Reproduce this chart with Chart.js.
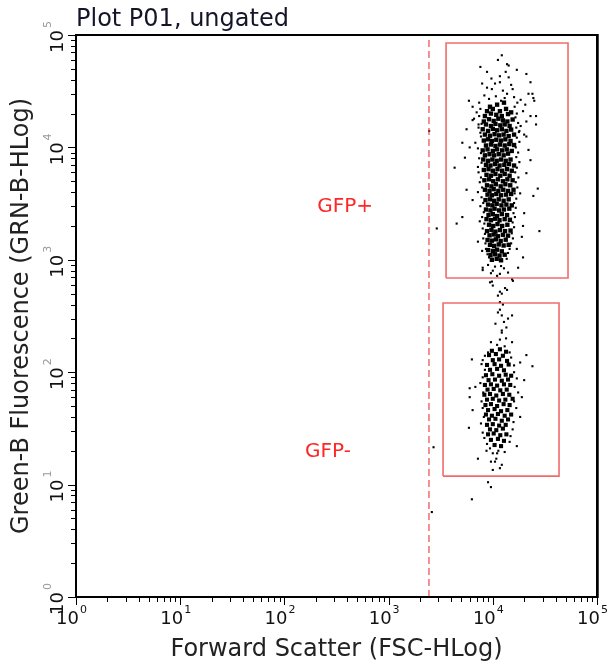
<!DOCTYPE html>
<html><head><meta charset="utf-8">
<script src="https://cdn.jsdelivr.net/npm/chart.js@4.4.1/dist/chart.umd.min.js"></script>
<style>html,body{margin:0;padding:0;background:#fff}#wrap{width:613px;height:664px;position:relative}</style>
</head><body><div id="wrap"><canvas id="c"></canvas></div>
<script>
// ---- texts ----
const plotTitle = 'Plot P01, ungated';
const xTitle = 'Forward Scatter (FSC-HLog)';
const yTitle = 'Green-B Fluorescence (GRN-B-HLog)';
const tickBase = '10';
const tickExponents = ['0', '1', '2', '3', '4', '5'];
const decadeValues = [1, 10, 100, 1000, 10000, 100000];
const minorMultipliers = [2, 3, 4, 5, 6, 7, 8, 9];
const gateNames = ['GFP+', 'GFP-'];
const gateLabelFSC = [382, 262];
const gateLabelGRN = [2950, 19.5];

// ---- gates (FSC, GRN) ----
const gfpPosFSC = [3.56e3, 5.27e4];
const gfpPosGRN = [689, 8.49e4];
const gfpNegFSC = [3.33e3, 4.32e4];
const gfpNegGRN = [11.9, 413];
const fscThreshold = 2.44e3;

// ---- events [FSC, GRN] ----
const posCore = [
[9.4e3,2.3e4],[1.1e4,2.4e4],[1.28e4,2.5e4],
[8.8e3,2.1e4],[1.0e4,2.2e4],[1.17e4,2.1e4],[1.34e4,2.2e4],[1.5e4,2.05e4],
[8.4e3,1.9e4],[9.6e3,2.0e4],[1.08e4,1.95e4],[1.22e4,1.9e4],[1.4e4,1.98e4],
[8.2e3,1.7e4],[9.2e3,1.78e4],[1.02e4,1.72e4],[1.13e4,1.8e4],[1.25e4,1.74e4],[1.38e4,1.7e4],[1.55e4,1.77e4],
[8.6e3,1.6e4],[9.6e3,1.55e4],[1.06e4,1.62e4],[1.18e4,1.57e4],[1.3e4,1.6e4],[1.45e4,1.55e4],
[8.0e3,1.45e4],[9.0e3,1.4e4],[1.0e4,1.46e4],[1.1e4,1.42e4],[1.22e4,1.45e4],[1.35e4,1.4e4],[1.5e4,1.44e4],
[8.4e3,1.3e4],[9.4e3,1.27e4],[1.04e4,1.31e4],[1.15e4,1.28e4],[1.27e4,1.3e4],[1.42e4,1.26e4],[1.6e4,1.3e4],
[8.2e3,1.15e4],[9.0e3,1.18e4],[9.8e3,1.14e4],[1.08e4,1.17e4],[1.2e4,1.15e4],[1.32e4,1.18e4],[1.48e4,1.14e4],
[8.6e3,1.04e4],[9.6e3,1.06e4],[1.06e4,1.03e4],[1.17e4,1.06e4],[1.3e4,1.04e4],[1.44e4,1.07e4],[1.6e4,1.05e4],
[8.0e3,9.4e3],[8.9e3,9.6e3],[1.0e4,9.3e3],[1.1e4,9.6e3],[1.23e4,9.4e3],[1.36e4,9.6e3],[1.52e4,9.3e3],
[8.4e3,8.5e3],[9.3e3,8.7e3],[1.03e4,8.5e3],[1.14e4,8.7e3],[1.27e4,8.5e3],[1.4e4,8.8e3],
[8.1e3,7.8e3],[9.0e3,7.6e3],[9.9e3,7.8e3],[1.09e4,7.6e3],[1.2e4,7.8e3],[1.33e4,7.6e3],[1.48e4,7.8e3],
[8.6e3,7.0e3],[9.5e3,6.9e3],[1.05e4,7.1e3],[1.16e4,6.9e3],[1.29e4,7.0e3],[1.43e4,7.1e3],[1.6e4,6.9e3],
[8.2e3,6.3e3],[9.1e3,6.4e3],[1.0e4,6.2e3],[1.11e4,6.4e3],[1.23e4,6.2e3],[1.37e4,6.4e3],[1.52e4,6.2e3],
[8.7e3,5.7e3],[9.6e3,5.6e3],[1.06e4,5.8e3],[1.18e4,5.6e3],[1.3e4,5.8e3],[1.45e4,5.6e3],
[8.3e3,5.1e3],[9.2e3,5.2e3],[1.01e4,5.0e3],[1.12e4,5.2e3],[1.25e4,5.0e3],[1.38e4,5.2e3],[1.55e4,5.1e3],
[8.8e3,4.6e3],[9.7e3,4.5e3],[1.07e4,4.7e3],[1.19e4,4.5e3],[1.32e4,4.7e3],[1.47e4,4.6e3],
[8.4e3,4.2e3],[9.3e3,4.1e3],[1.02e4,4.25e3],[1.13e4,4.1e3],[1.26e4,4.2e3],[1.4e4,4.1e3],[1.58e4,4.2e3],
[8.9e3,3.8e3],[9.8e3,3.75e3],[1.08e4,3.85e3],[1.2e4,3.75e3],[1.34e4,3.8e3],[1.5e4,3.85e3],
[8.5e3,3.4e3],[9.4e3,3.45e3],[1.03e4,3.35e3],[1.14e4,3.45e3],[1.27e4,3.35e3],[1.42e4,3.45e3],
[9.0e3,3.1e3],[9.9e3,3.05e3],[1.09e4,3.15e3],[1.21e4,3.05e3],[1.35e4,3.1e3],[1.52e4,3.05e3],
[8.6e3,2.8e3],[9.5e3,2.75e3],[1.04e4,2.85e3],[1.15e4,2.75e3],[1.28e4,2.8e3],[1.44e4,2.85e3],
[9.1e3,2.5e3],[1.0e4,2.55e3],[1.1e4,2.45e3],[1.22e4,2.55e3],[1.37e4,2.5e3],
[8.7e3,2.3e3],[9.6e3,2.25e3],[1.05e4,2.32e3],[1.16e4,2.25e3],[1.3e4,2.3e3],[1.46e4,2.27e3],
[9.2e3,2.05e3],[1.01e4,2.0e3],[1.11e4,2.08e3],[1.23e4,2.0e3],[1.38e4,2.05e3],
[8.8e3,1.8e3],[9.7e3,1.85e3],[1.06e4,1.78e3],[1.17e4,1.84e3],[1.31e4,1.8e3],[1.48e4,1.82e3],
[9.3e3,1.65e3],[1.02e4,1.68e3],[1.12e4,1.62e3],[1.25e4,1.67e3],[1.4e4,1.64e3],
[8.9e3,1.5e3],[9.8e3,1.48e3],[1.07e4,1.52e3],[1.19e4,1.47e3],[1.33e4,1.51e3],
[9.4e3,1.36e3],[1.03e4,1.33e3],[1.14e4,1.37e3],[1.27e4,1.34e3],[1.42e4,1.36e3],
[9.0e3,1.22e3],[1.0e4,1.2e3],[1.1e4,1.23e3],[1.22e4,1.19e3],
[9.5e3,1.1e3],[1.05e4,1.12e3],[1.16e4,1.09e3],[1.3e4,1.11e3],
[9.8e3,1.0e3],[1.09e4,1.02e3],[1.2e4,990]
];
const posHalo = [
[1.22e4,6.6e4],[1.12e4,6.0e4],[1.37e4,5.5e4],[1.42e4,5.35e4],[7.6e3,5.2e4],[8.8e3,4.7e4],[1.33e4,4.7e4],[1.7e4,4.9e4],[2.1e4,4.5e4],
[9.7e3,4.1e4],[1.17e4,4.3e4],[1.42e4,4.2e4],[7.9e3,3.7e4],[8.8e3,3.4e4],[1.17e4,3.8e4],[1.05e4,3.7e4],[1.5e4,3.6e4],[2.3e4,3.8e4],
[9.8e3,3.3e4],[1.25e4,3.2e4],[1.55e4,3.3e4],[1.37e4,3.0e4],[2.2e4,3.0e4],[2.4e4,3.0e4],[5.9e3,2.6e4],[2.5e4,2.6e4],
[8.3e3,2.9e4],[9.2e3,2.7e4],[1.07e4,2.85e4],[1.2e4,2.6e4],[1.6e4,2.8e4],[1.85e4,2.65e4],[7.4e3,2.5e4],[1.3e4,2.75e4],[1.72e4,2.5e4],[2.05e4,2.4e4],
[6.4e3,2.3e4],[7.0e3,2.05e4],[1.95e4,2.1e4],[2.3e4,1.9e4],[6.6e3,1.8e4],[2.1e4,1.7e4],[7.3e3,1.6e4],[1.85e4,1.55e4],[2.6e4,1.6e4],[5.6e3,1.45e4],
[7.6e3,1.35e4],[1.8e4,1.4e4],[2.0e4,1.3e4],[5.1e3,1.1e4],[6.8e3,1.1e4],[4.3e3,6.6e3],[5.4e3,8.1e3],[5.6e3,4.2e3],[5.1e3,2.4e3],[4.5e3,2.1e3],
[2.8e4,1.8e3],[2.7e4,4.3e3],[2.45e4,3.7e3],[2.1e4,5.9e3],[2.3e4,7.7e3],[2.2e4,9.5e3],[2.1e4,1.25e4],[2.6e4,1.9e4],[2.45e4,2.75e4],
[6.4e3,1.75e4],[6.0e3,1.0e4],[7.2e3,6.7e3],[6.4e3,3.4e3],[7.5e3,2.2e3],[7.2e3,1.45e3],[7.9e3,1.2e3],[8.0e3,850],[1.75e4,850],[1.95e4,1.05e3],
[1.83e4,3.9e3],[2.0e4,2.6e3],[1.95e4,2.0e3],[1.7e4,1.25e3],[1.9e4,1.6e3],
[7.6e3,2.2e4],[7.4e3,1.9e4],[7.8e3,1.62e4],[7.3e3,1.5e4],[7.7e3,1.25e4],[7.2e3,9.8e3],[7.7e3,8.9e3],[7.4e3,8.0e3],[7.8e3,7.3e3],
[7.3e3,6.0e3],[7.7e3,5.4e3],[7.5e3,4.9e3],[7.9e3,4.4e3],[7.2e3,4.0e3],[7.8e3,3.6e3],[8.1e3,3.2e3],[7.6e3,3.0e3],[8.2e3,2.65e3],
[7.9e3,2.4e3],[8.3e3,2.1e3],[8.0e3,1.9e3],[8.4e3,1.7e3],[8.1e3,1.55e3],[8.5e3,1.4e3],[8.6e3,1.25e3],[8.9e3,1.12e3],[9.2e3,1.05e3],
[1.62e4,2.3e4],[1.7e4,2.0e4],[1.65e4,1.85e4],[1.75e4,1.65e4],[1.68e4,1.5e4],[1.78e4,1.37e4],[1.7e4,1.22e4],[1.8e4,1.12e4],[1.66e4,1.0e4],
[1.75e4,9.0e3],[1.68e4,8.2e3],[1.8e4,7.4e3],[1.7e4,6.6e3],[1.64e4,6.0e3],[1.76e4,5.4e3],[1.66e4,4.9e3],[1.72e4,4.4e3],[1.62e4,3.9e3],
[1.68e4,3.5e3],[1.6e4,3.2e3],[1.66e4,2.9e3],[1.58e4,2.6e3],[1.63e4,2.4e3],[1.55e4,2.15e3],[1.6e4,1.95e3],[1.52e4,1.72e3],[1.56e4,1.55e3],
[1.5e4,1.4e3],[1.45e4,1.25e3],[1.4e4,1.15e3],[1.36e4,1.02e3],
[8.0e3,810],[1.0e4,800],[1.17e4,750],[1.4e4,770],[1.53e4,670],[1.56e4,650],[9.4e3,630],[1.0e4,590],[1.31e4,560],[1.37e4,540],
[1.17e4,520],[1.22e4,500],[1.12e4,480],[9.0e3,900],[1.05e4,870],[1.2e4,880],[1.28e4,840],[9.6e3,760],[1.1e4,720],[9.8e3,640]
];
const negCore = [
[9.8e3,155],[1.17e4,160],[1.34e4,152],
[9.2e3,142],[1.07e4,145],[1.25e4,140],
[1.0e4,128],[1.15e4,130],[1.37e4,126],
[8.8e3,116],[1.04e4,118],[1.2e4,114],[1.42e4,117],
[9.4e3,105],[1.1e4,107],[1.28e4,104],
[8.6e3,94],[9.9e3,96],[1.15e4,93],[1.33e4,95],[1.5e4,93],
[9.1e3,85],[1.05e4,86],[1.22e4,84],[1.4e4,86],
[8.4e3,77],[9.6e3,78],[1.1e4,76],[1.28e4,78],[1.47e4,77],
[8.9e3,70],[1.02e4,71],[1.18e4,69],[1.36e4,70],
[8.3e3,63],[9.4e3,64],[1.08e4,62],[1.25e4,64],[1.44e4,63],
[8.8e3,57],[1.0e4,58],[1.15e4,56],[1.32e4,57],[1.55e4,58],
[8.5e3,51],[9.6e3,52],[1.1e4,50],[1.27e4,52],[1.45e4,51],
[9.0e3,46],[1.04e4,47],[1.2e4,45],[1.38e4,46],
[8.6e3,42],[9.8e3,41],[1.12e4,42.5],[1.3e4,41],[1.5e4,42],
[9.2e3,38],[1.06e4,38.5],[1.22e4,37],[1.4e4,38],
[8.8e3,34],[1.0e4,34.5],[1.15e4,33.5],[1.33e4,34],
[9.4e3,31],[1.08e4,30.5],[1.25e4,31.5],
[9.0e3,28],[1.02e4,28.5],[1.18e4,27.5],[1.35e4,28],
[9.6e3,25],[1.12e4,25.5],[1.28e4,24.5],
[1.04e4,22.5],[1.2e4,22]
];
const negHalo = [
[1.17e4,420],[1.25e4,400],[1.17e4,360],[1.12e4,340],[1.22e4,320],[1.53e4,320],[1.4e4,300],[1.22e4,235],[1.22e4,225],
[9.6e3,185],[1.17e4,195],[1.34e4,200],[1.53e4,185],[6.3e3,130],[2.1e4,142],[2.4e4,113],[1.83e4,122],[8.0e3,128],[8.4e3,105],
[6.0e3,72],[6.8e3,74],[6.0e3,60],[8.0e3,48],[6.4e3,46],[2.0e4,85],[1.9e4,60],[1.83e4,40],[1.7e4,22],[5.9e3,32],[7.2e3,17],
[1.17e4,14],[8.8e3,23],[1.1e4,19],[1.05e4,16],[1.22e4,15],[9.0e3,10.5],[9.6e3,9.5],
[8.0e3,90],[7.6e3,80],[8.1e3,66],[7.8e3,55],[8.2e3,40],[7.7e3,35],[8.0e3,29],[8.3e3,26],[1.6e4,100],[1.7e4,88],[1.62e4,74],
[1.75e4,66],[1.6e4,55],[1.68e4,48],[1.58e4,36],[1.55e4,31],[1.48e4,27],[1.45e4,24],[8.7e3,20],[9.4e3,21],[1.0e4,19],[1.13e4,20],
[1.3e4,19.5],[1.08e4,17],[9.6e3,16],[1.0e4,13.5],[1.3e4,170],[1.1e4,175],[9.0e3,150],[1.45e4,150],[1.5e4,135],[8.4e3,140],
[1.6e4,115],[7.8e3,118],[1.35e4,250],[1.06e4,270],[1.28e4,280]
];
const strayEvents = [[2.45e3,1.4e4],[2.9e3,1.9e3],[2.7e3,21.5],[2.6e3,5.7],[6.3e3,7.4]];

// ---- build datasets ----
const FONT = '"DejaVu Sans", Verdana, sans-serif';
Chart.defaults.font.family = FONT;
const gateColor = 'rgba(238,70,70,0.8)';
function box(fx, gy) {
  return [[fx[0], gy[0]], [fx[1], gy[0]], [fx[1], gy[1]], [fx[0], gy[1]], [fx[0], gy[0]]];
}
const lineDs = (data, extra) => Object.assign({
  data, showLine: true, pointRadius: 0, borderColor: gateColor, borderWidth: 1.6,
  backgroundColor: 'transparent', tension: 0, fill: false
}, extra || {});
const dotDs = (data, r) => ({
  data, showLine: false, pointStyle: 'rect', pointRadius: r, pointBorderWidth: 0,
  borderWidth: 0, backgroundColor: '#000', pointBackgroundColor: '#000'
});

const axisDecor = {
  id: 'axisDecor',
  afterDatasetsDraw(chart) {
    const {ctx, chartArea: a, scales: {x, y}} = chart;
    ctx.save();
    // gate labels
    ctx.font = '20px ' + FONT;
    ctx.fillStyle = '#ff2626';
    ctx.textAlign = 'center';
    ctx.textBaseline = 'middle';
    gateNames.forEach((t, i) => ctx.fillText(t, x.getPixelForValue(gateLabelFSC[i]), y.getPixelForValue(gateLabelGRN[i])));
    // frame
    ctx.strokeStyle = '#000';
    ctx.lineWidth = 2;
    ctx.strokeRect(a.left, a.top, a.right - a.left, a.bottom - a.top);
    ctx.strokeStyle = '#444';
    ctx.lineWidth = 1;
    ctx.beginPath(); ctx.moveTo(a.right + 1.5, a.top - 1); ctx.lineTo(a.right + 1.5, a.bottom + 1); ctx.stroke();
    // ticks
    ctx.strokeStyle = '#000';
    ctx.lineWidth = 1;
    ctx.beginPath();
    const tick = (v, len) => {
      const px = Math.round(x.getPixelForValue(v)) + 0.5;
      ctx.moveTo(px, a.bottom); ctx.lineTo(px, a.bottom + len);
      const py = Math.round(y.getPixelForValue(v)) + 0.5;
      ctx.moveTo(a.left, py); ctx.lineTo(a.left - len, py);
    };
    decadeValues.forEach((d, i) => {
      tick(d, 8);
      if (i < decadeValues.length - 1) minorMultipliers.forEach(m => tick(d * m, 5));
    });
    ctx.stroke();
    // tick labels
    ctx.textBaseline = 'alphabetic';
    decadeValues.forEach((d, i) => {
      const px = x.getPixelForValue(d);
      ctx.fillStyle = '#111';
      ctx.font = '18px ' + FONT;
      ctx.textAlign = 'right';
      ctx.fillText(tickBase, px + 3, a.bottom + 27);
      ctx.font = '11px ' + FONT;
      ctx.textAlign = 'left';
      ctx.fillText(tickExponents[i], px + 4, a.bottom + 16);
      const py = y.getPixelForValue(d);
      ctx.save();
      ctx.translate(a.left - 13, py);
      ctx.rotate(-Math.PI / 2);
      ctx.font = '18px ' + FONT;
      ctx.textAlign = 'right';
      ctx.fillStyle = '#111';
      ctx.fillText(tickBase, 5, 0);
      ctx.font = '11px ' + FONT;
      ctx.textAlign = 'left';
      ctx.fillStyle = '#999';
      ctx.fillText(tickExponents[i], 7, -12);
      ctx.restore();
    });
    ctx.restore();
  }
};

new Chart(document.getElementById('c'), {
  type: 'scatter',
  data: {
    datasets: [
      lineDs(box(gfpPosFSC, gfpPosGRN)),
      lineDs(box(gfpNegFSC, gfpNegGRN)),
      lineDs([[fscThreshold, 1], [fscThreshold, 1e5]], {borderDash: [7, 4], borderWidth: 1.5}),
      dotDs(posHalo, 1.5),
      dotDs(negHalo, 1.5),
      dotDs(strayEvents, 1.5),
      dotDs(posCore, 3.1),
      dotDs(negCore, 2.9)
    ]
  },
  options: {
    responsive: true,
    maintainAspectRatio: false,
    animation: false,
    events: [],
    layout: {padding: {left: 0, right: 16, top: 0, bottom: 0}},
    plugins: {
      legend: {display: false},
      tooltip: {enabled: false},
      title: {
        display: true, text: plotTitle, align: 'start', fullSize: false,
        color: '#15152a', font: {size: 24, weight: 'normal'}, padding: {top: 5.6, bottom: 0.6}
      }
    },
    scales: {
      x: {
        type: 'logarithmic', min: 1, max: 1e5,
        ticks: {display: false}, grid: {display: false, drawTicks: false}, border: {display: false},
        title: {display: true, text: xTitle, color: '#222', font: {size: 24}, padding: {top: 38.2, bottom: 0}}
      },
      y: {
        type: 'logarithmic', min: 1, max: 1e5,
        ticks: {display: false}, grid: {display: false, drawTicks: false}, border: {display: false},
        title: {display: true, text: yTitle, color: '#222', font: {size: 24}, padding: {top: 7.6, bottom: 39.6}}
      }
    }
  },
  plugins: [axisDecor]
});
</script>
</body></html>
